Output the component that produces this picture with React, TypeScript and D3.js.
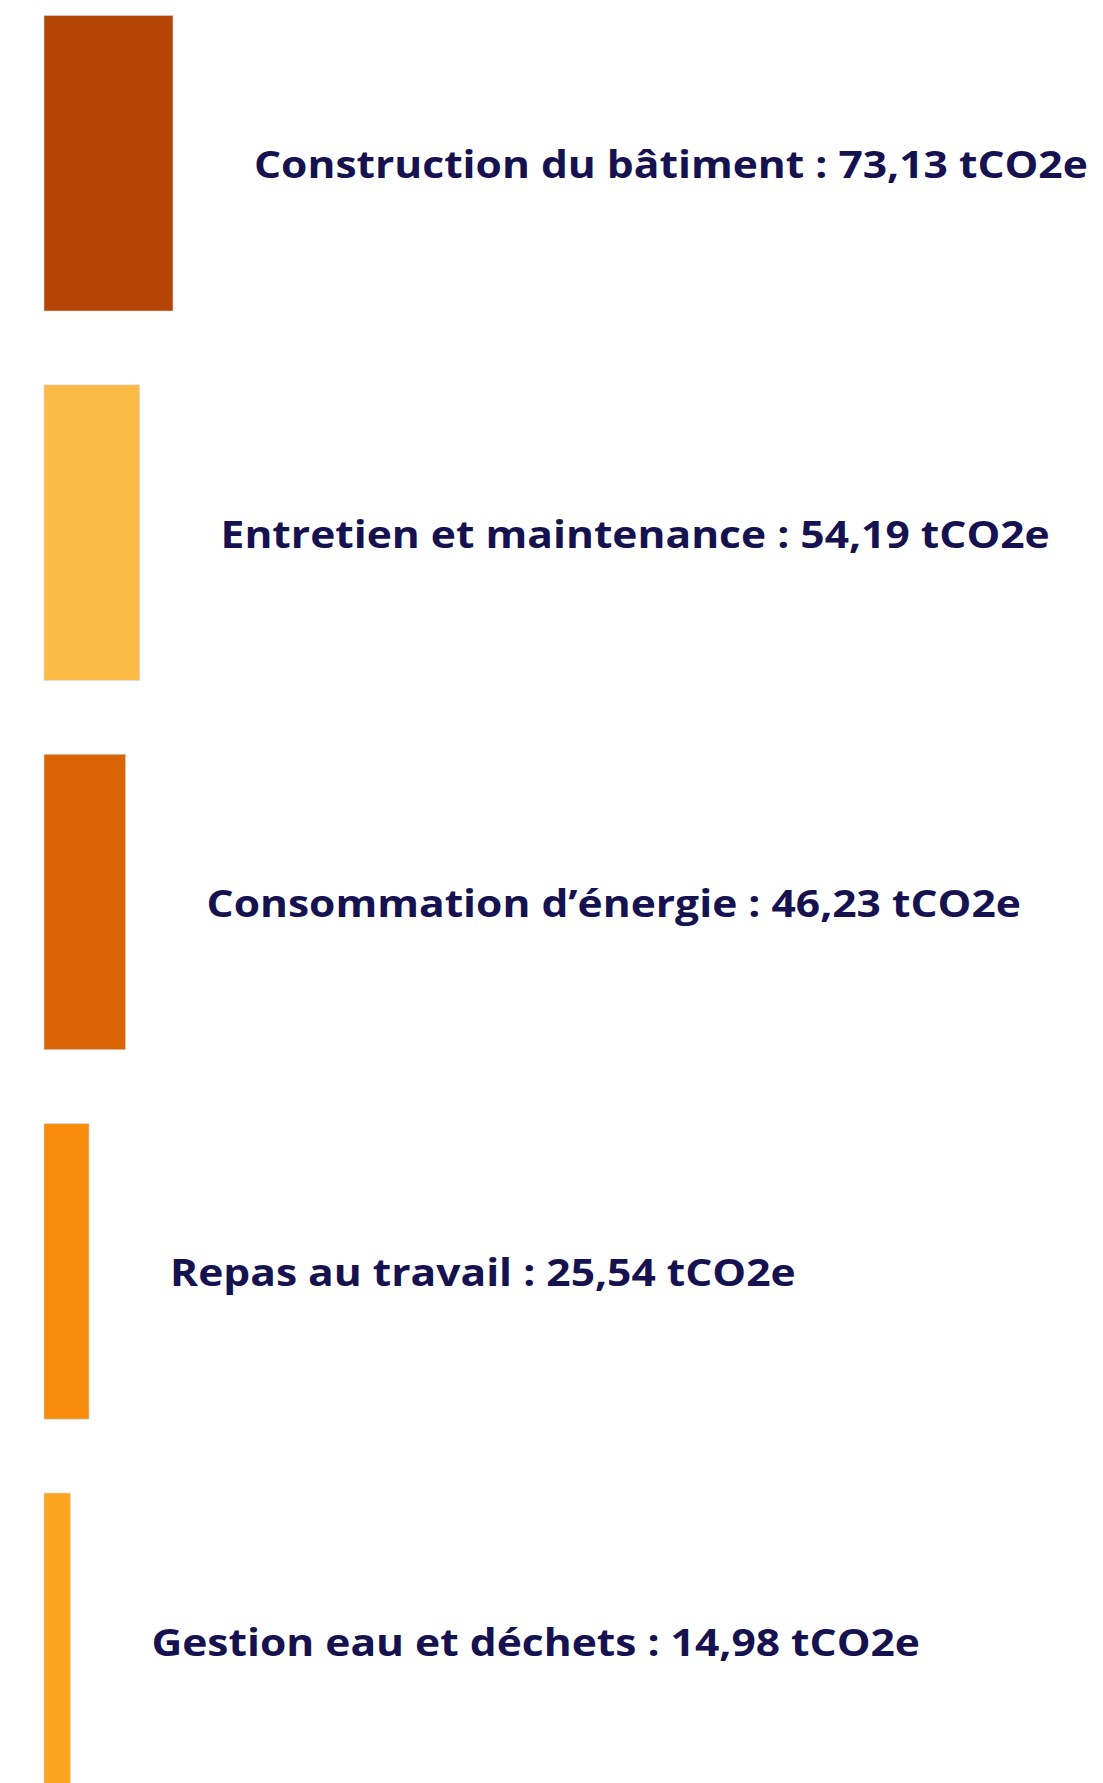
import React from "react";
import * as d3 from "d3";

const categories = [
  "Construction du bâtiment",
  "Entretien et maintenance",
  "Consommation d’énergie",
  "Repas au travail",
  "Gestion eau et déchets",
];
const values = [73.13, 54.19, 46.23, 25.54, 14.98];
const colors = ["#B44507", "#FBBB45", "#DB6505", "#F78D0B", "#FCA51F"];
const unit = "tCO2e";

const width = 1103;
const height = 1783;

const fmt = (v: number) => v.toFixed(2).replace(".", ",");

export default function App() {
  const x = d3.scaleLinear().domain([0, 73.13]).range([44, 173]);
  const y = d3
    .scaleBand<string>()
    .domain(categories)
    .range([15.5, 1788.5])
    .paddingInner(0.2)
    .paddingOuter(0);

  return (
    <svg
      width={width}
      height={height}
      style={{ position: "absolute", left: 0, top: 0, background: "#fff" }}
    >
      {categories.map((c, i) => {
        const y0 = y(c) as number;
        const xEnd = x(values[i]);
        const ty = y0 + y.bandwidth() / 2 + 5;
        return (
          <g key={c}>
            <rect
              x={x(0)}
              y={y0}
              width={xEnd - x(0)}
              height={y.bandwidth()}
              fill={colors[i]}
              stroke="#d8d8d8"
              strokeWidth={0.6}
            />
            {/* label is a bit stretched horizontally in the original */}
            <text
              transform={`translate(${xEnd + 81},${ty}) scale(1.15,1)`}
              dominantBaseline="middle"
              fontFamily="'Open Sans', sans-serif"
              fontWeight={700}
              fontSize={37}
              fill="#15124F"
            >
              {`${c} : ${fmt(values[i])} ${unit}`}
            </text>
          </g>
        );
      })}
    </svg>
  );
}
